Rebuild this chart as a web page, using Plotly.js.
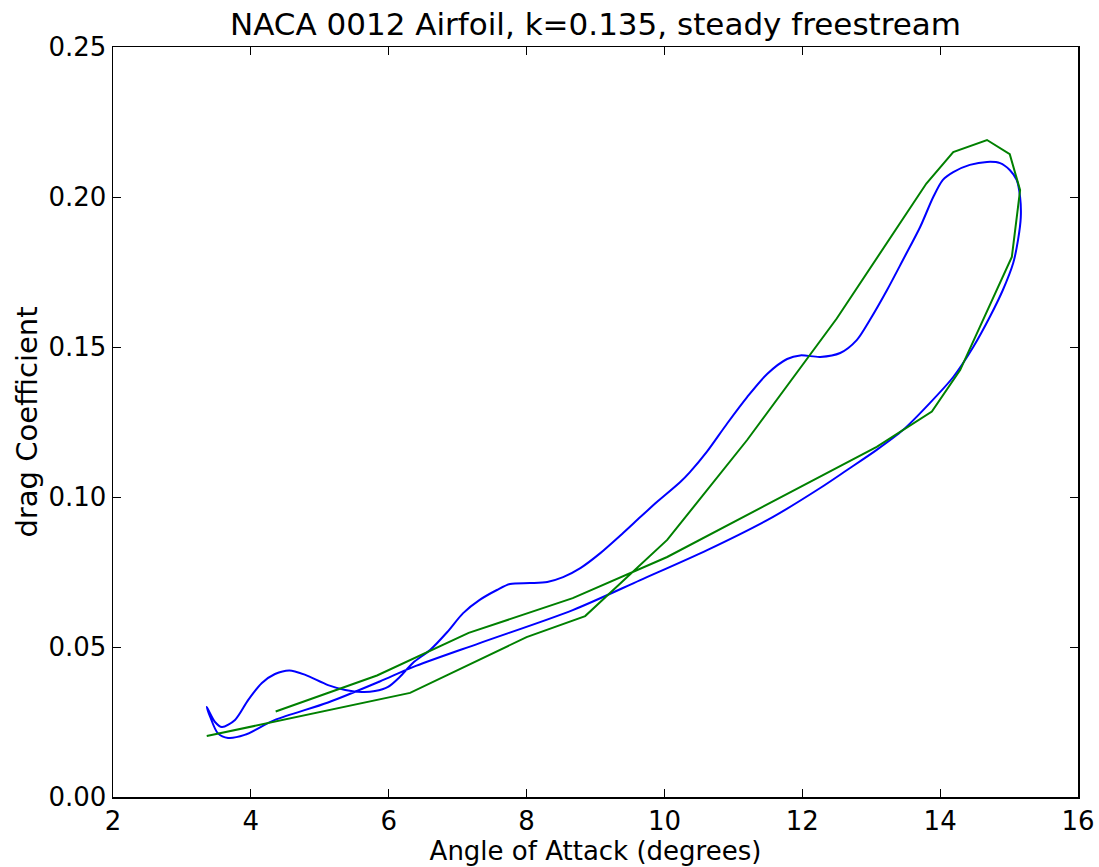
<!DOCTYPE html>
<html>
<head>
<meta charset="utf-8">
<script src="https://cdn.plot.ly/plotly-3.0.1.min.js"></script>
<style>html,body{margin:0;padding:0;background:#fff;}#chart{width:1099px;height:867px;}</style>
</head>
<body>
<div id="chart"></div>
<script>
// Blue (smooth) loop: angle of attack (deg) and drag coefficient
const blueAlpha = [3.36,3.48,3.58,3.77,3.96,4.16,4.35,4.56,4.79,5.12,5.37,5.61,5.80,5.99,6.16,6.35,6.60,6.85,7.08,7.32,7.57,7.76,8.05,8.30,8.53,8.78,9.07,9.40,9.65,9.89,10.23,10.37,10.62,10.91,11.20,11.49,11.78,11.97,12.26,12.55,12.79,12.98,13.23,13.46,13.71,13.90,14.04,14.19,14.43,14.68,14.87,15.01,15.11,15.16,15.17,15.13,15.06,14.91,14.72,14.48,14.19,13.85,13.46,13.08,12.65,12.26,11.57,10.62,9.65,8.67,7.32,6.35,5.87,5.12,4.35,3.91,3.67,3.52,3.41,3.36];
const blueCd    = [0.0300,0.0250,0.0233,0.0257,0.0323,0.0380,0.0410,0.0422,0.0407,0.0373,0.0357,0.0350,0.0353,0.0367,0.0400,0.0447,0.0490,0.0550,0.0613,0.0657,0.0690,0.0710,0.0713,0.0717,0.0733,0.0763,0.0813,0.0880,0.0933,0.0983,0.1050,0.1083,0.1152,0.1245,0.1333,0.1410,0.1460,0.1472,0.1467,0.1480,0.1523,0.1590,0.1690,0.1790,0.1900,0.2000,0.2057,0.2083,0.2107,0.2117,0.2113,0.2090,0.2057,0.2000,0.1933,0.1857,0.1780,0.1690,0.1600,0.1500,0.1400,0.1313,0.1223,0.1157,0.1090,0.1030,0.0933,0.0823,0.0723,0.0623,0.0513,0.0433,0.0385,0.0315,0.0257,0.0207,0.0197,0.0213,0.0267,0.0300];

// Green (piecewise) loop
const greenAlpha = [3.36,6.31,8.00,8.85,10.04,11.20,12.50,13.80,14.19,14.68,15.01,15.16,15.04,14.29,13.88,13.08,10.04,8.67,7.16,5.83,4.36];
const greenCd    = [0.0203,0.0347,0.0533,0.0603,0.0857,0.1190,0.1595,0.2045,0.2150,0.2190,0.2143,0.2023,0.1800,0.1423,0.1285,0.1167,0.0800,0.0663,0.0547,0.0405,0.0285];

const xTicks = [2,4,6,8,10,12,14,16];
const yTicks = [0.00,0.05,0.10,0.15,0.20,0.25];
const yTickText = yTicks.map(v => v.toFixed(2));

const traces = [
  {x: blueAlpha, y: blueCd, mode: 'lines', line: {color: '#0000ff', width: 2, shape: 'spline', smoothing: 0.8}, showlegend: false, hoverinfo: 'skip'},
  {x: greenAlpha, y: greenCd, mode: 'lines', line: {color: '#008000', width: 2}, showlegend: false, hoverinfo: 'skip'}
];

const font = {family: 'DejaVu Sans, sans-serif', color: '#000'};
const layout = {
  width: 1099, height: 867,
  margin: {l: 113, r: 21, t: 47, b: 70},
  paper_bgcolor: '#fff', plot_bgcolor: '#fff',
  font: Object.assign({size: 26}, font),
  title: {text: 'NACA 0012 Airfoil, k=0.135, steady freestream', font: Object.assign({size: 31}, font),
          x: 0.5, xref: 'paper', xanchor: 'center', y: 0.972, yref: 'container', yanchor: 'middle'},
  xaxis: {range: [2, 16], tickvals: xTicks, ticktext: xTicks.map(String), ticks: 'inside', ticklen: 8, tickwidth: 1,
          tickcolor: '#000', showline: true, linecolor: '#000', linewidth: 1.5, mirror: 'allticks', showgrid: false, zeroline: false,
          tickfont: Object.assign({size: 26}, font),
          title: {text: 'Angle of Attack (degrees)', font: Object.assign({size: 26}, font), standoff: 3}},
  yaxis: {range: [0, 0.25], tickvals: yTicks, ticktext: yTickText, ticks: 'inside', ticklen: 8, tickwidth: 1,
          tickcolor: '#000', showline: true, linecolor: '#000', linewidth: 1.5, mirror: 'allticks', showgrid: false, zeroline: false,
          tickfont: Object.assign({size: 26}, font),
          title: {text: 'drag Coefficient', font: Object.assign({size: 29}, font), standoff: 2}}
};

Plotly.newPlot('chart', traces, layout, {staticPlot: true, displayModeBar: false});
</script>
</body>
</html>
